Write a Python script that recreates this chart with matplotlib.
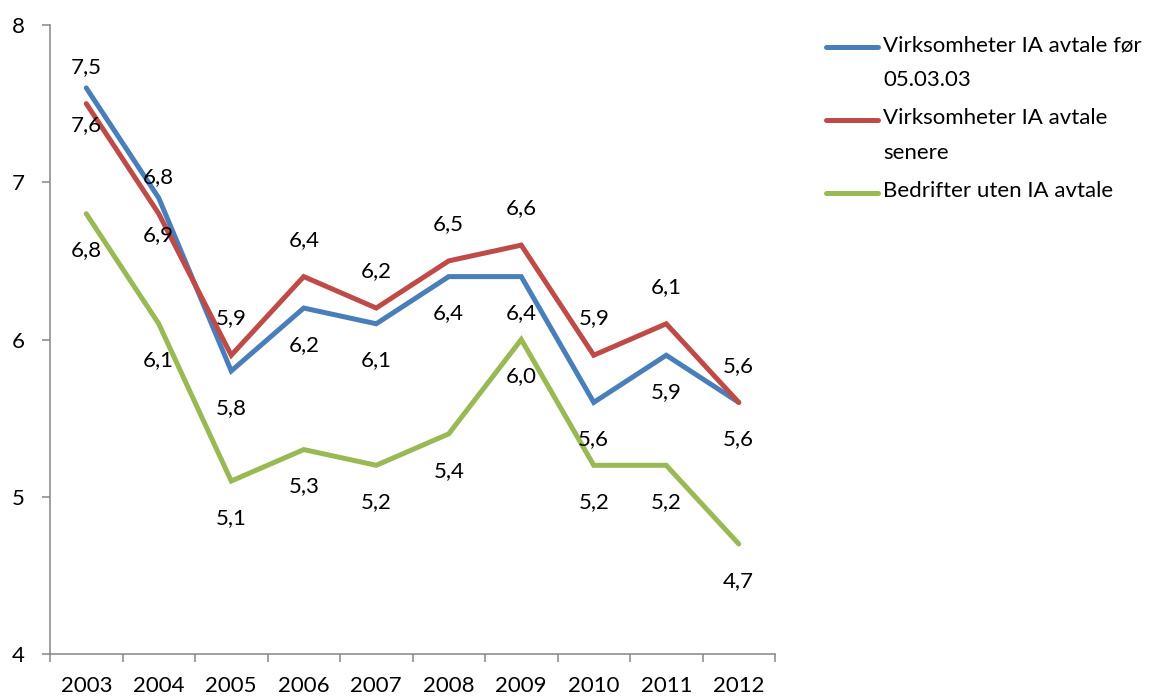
#!/usr/bin/env python3

import matplotlib

matplotlib.use("Agg")
import matplotlib.pyplot as plt
from matplotlib.lines import Line2D


YEARS = ["2003", "2004", "2005", "2006", "2007", "2008", "2009", "2010", "2011", "2012"]
BLUE = [7.6, 6.9, 5.8, 6.2, 6.1, 6.4, 6.4, 5.6, 5.9, 5.6]
RED = [7.5, 6.8, 5.9, 6.4, 6.2, 6.5, 6.6, 5.9, 6.1, 5.6]
GREEN = [6.8, 6.1, 5.1, 5.3, 5.2, 5.4, 6.0, 5.2, 5.2, 4.7]
NAMES = [
    "Virksomheter IA avtale før\n05.03.03",
    "Virksomheter IA avtale\nsenere",
    "Bedrifter uten IA avtale",
]
Y_TICKS = [4, 5, 6, 7, 8]

plt.rcParams["font.family"] = ["Lato", "DejaVu Sans"]
FS = 16
AXIS_GREY = "#868686"

fig = plt.figure(figsize=(11.73, 6.96), dpi=100)
ax = fig.add_axes([50 / 1173, 1 - 654 / 696, 725 / 1173, 629 / 696])

series = [
    (BLUE, "#4A7EBB", -1),
    (RED, "#BE4B48", 1),
    (GREEN, "#98B954", -1),
]
x = list(range(len(YEARS)))
for values, color, side in series:
    ax.plot(x, values, color=color, linewidth=3.6, solid_capstyle="round",
            solid_joinstyle="miter")
    for xi, v in zip(x, values):
        ax.annotate(f"{v:.1f}".replace(".", ","), (xi, v),
                    xytext=(0, side * 26.5), textcoords="offset points",
                    ha="center", va="center", fontsize=FS)

ax.set_xlim(-0.5, len(YEARS) - 0.5)
ax.set_ylim(4, 8)
ax.set_yticks(Y_TICKS)
ax.set_xticks([i - 0.5 for i in range(len(YEARS) + 1)])
ax.set_xticklabels([])
ax.set_xticks(x, minor=True)
ax.set_xticklabels(YEARS, minor=True, fontsize=FS)
ax.tick_params(axis="x", which="major", direction="out", length=6,
               width=1.1, color=AXIS_GREY)
ax.tick_params(axis="x", which="minor", length=0, pad=16)
ax.tick_params(axis="y", direction="out", length=6, width=1.1,
               color=AXIS_GREY, labelsize=FS, pad=12)
for side in ("top", "right"):
    ax.spines[side].set_visible(False)
for side in ("left", "bottom"):
    ax.spines[side].set_color(AXIS_GREY)
    ax.spines[side].set_linewidth(1.1)

# legend drawn by hand so the key lines sit on the first text line
for i, (name, (_, color, _)) in enumerate(zip(NAMES, series)):
    yc = 1 - (47 + i * 73) / 696
    fig.add_artist(Line2D([826 / 1173, 878 / 1173], [yc, yc], color=color,
                          linewidth=3.6, solid_capstyle="round",
                          transform=fig.transFigure))
    fig.text(883 / 1173, yc + 12 / 696, name, ha="left", va="top",
             fontsize=FS, linespacing=1.95)

fig.savefig("out.png", dpi=100)
